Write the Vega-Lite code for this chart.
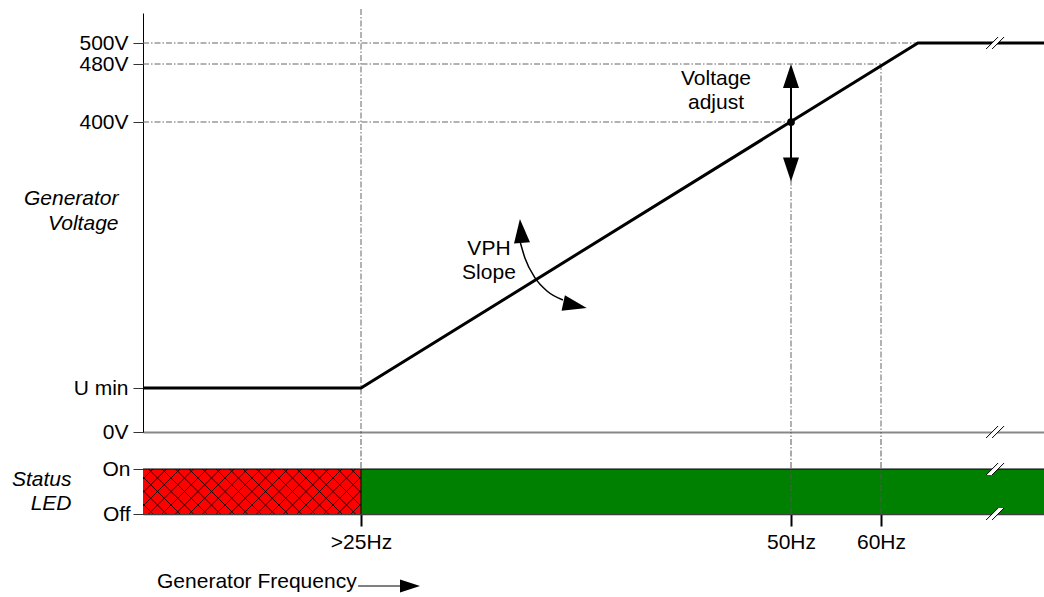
{
  "$schema": "https://vega.github.io/schema/vega-lite/v6.json",
  "padding": {"left": 11, "top": 8, "right": 0, "bottom": 0},
  "background": "white",
  "config": {
    "view": {"stroke": null},
    "font": "Liberation Sans",
    "axis": {"grid": false, "labelFontSize": 21, "labelColor": "black", "labelFont": "Liberation Sans", "titleFont": "Liberation Sans", "labelOverlap": false}
  },
  "bounds": "flush",
  "spacing": 37,
  "datasets": {
    "line": [{"hz": 0, "v": 100}, {"hz": 25, "v": 100}, {"hz": 64.08, "v": 500}, {"hz": 78, "v": 500}],
    "hRefs": [{"v": 500, "hz": 0, "hz2": 64.08}, {"v": 480, "hz": 0, "hz2": 60}, {"v": 400, "hz": 0, "hz2": 50}],
    "vRefsTop": [{"hz": 25, "v": 534, "v2": 0}, {"hz": 50, "v": 400, "v2": 0}, {"hz": 60, "v": 480, "v2": 0}],
    "adjust": [{"hz": 50, "v": 463.4, "v2": 346.4}],
    "adjustUp": [{"hz": 50, "v": 463.4}],
    "adjustDown": [{"hz": 50, "v": 346.4}],
    "setpoint": [{"hz": 50, "v": 400}],
    "vph": [{"hz": 34.27, "v": 263.5}, {"hz": 34.53, "v": 246.6}, {"hz": 35.12, "v": 224.1}, {"hz": 35.81, "v": 209.4}, {"hz": 36.74, "v": 199.2}],
    "vphUp": [{"hz": 34.3, "v": 277.1}],
    "vphRight": [{"hz": 37.44, "v": 193.0}],
    "labels": [{"hz": 45.64, "v": 459.3, "text": "Voltage\nadjust"}, {"hz": 32.44, "v": 256.8, "text": "VPH\nSlope"}],
    "breaksTop": [{"hz": 72.6, "v": 500}, {"hz": 72.6, "v": 0}],
    "led": [{"hz": 0, "hz2": 25, "lo": 0, "hi": 1, "led": "red"}, {"hz": 25, "hz2": 78, "lo": 0, "hi": 1, "led": "green"}],
    "hatch": [{"hz": 12.5, "lvl": 0.5}],
    "vRefsBottom": [{"hz": 25, "lvl": 0, "lvl2": 1.822}, {"hz": 50, "lvl": 0, "lvl2": 1.822}, {"hz": 60, "lvl": 0, "lvl2": 1.822}],
    "barTop": [{"hz": 0, "hz2": 78, "lvl": 1}],
    "boundary": [{"hz": 25, "lvl": 0, "lvl2": 1}],
    "breaksBottom": [{"hz": 72.6, "lvl": 1}, {"hz": 72.6, "lvl": 0}],
    "freqArrow": [{"hz": 24.66, "hz2": 27.3, "lvl": -1.6}],
    "freqHead": [{"hz": 27.85, "lvl": -1.6}],
    "freqLabel": [{"hz": 1.61, "lvl": -1.511, "text": "Generator Frequency"}]
  },
  "vconcat": [
    {
      "width": 901,
      "height": 419,
      "layer": [
        {
          "data": {"name": "hRefs"},
          "mark": {"type": "rule", "color": "#666666", "strokeWidth": 1, "strokeDash": [6, 2, 1.5, 2]},
          "encoding": {
            "x": {"field": "hz", "type": "quantitative",
              "scale": {"type": "linear", "domain": [0, 25, 50, 60, 78], "range": [0, 218, 648, 738, 901], "nice": false, "zero": false},
              "axis": {"ticks": false, "labels": false, "domainColor": "#888888", "domainWidth": 2, "title": null}},
            "x2": {"field": "hz2"},
            "y": {"field": "v", "type": "quantitative",
              "scale": {"type": "linear", "domain": [0, 100, 400, 480, 500, 530], "range": [419, 375, 109, 51, 30, 0], "nice": false, "zero": false},
              "axis": {"values": [0, 100, 400, 480, 500], "labelExpr": "datum.value == 100 ? 'U min' : datum.value + 'V'",
                "domainColor": "black", "domainWidth": 1, "tickColor": "#333333", "tickSize": 10, "labelPadding": 5,
                "title": ["Generator", "Voltage"], "titleAngle": 0, "titleFontStyle": "italic", "titleFontWeight": "normal", "titleFontSize": 21,
                "titleAlign": "right", "titleBaseline": "middle", "titleX": -25, "titleY": 185, "titleLineHeight": 25, "titleColor": "black"}}
          }
        },
        {
          "data": {"name": "vRefsTop"},
          "mark": {"type": "rule", "color": "#666666", "strokeWidth": 1, "strokeDash": [6, 2, 1.5, 2]},
          "encoding": {
            "x": {"field": "hz", "type": "quantitative"},
            "y": {"field": "v", "type": "quantitative"},
            "y2": {"field": "v2"}
          }
        },
        {
          "data": {"name": "line"},
          "mark": {"type": "line", "color": "black", "strokeWidth": 3},
          "encoding": {
            "x": {"field": "hz", "type": "quantitative"},
            "y": {"field": "v", "type": "quantitative"}
          }
        },
        {
          "data": {"name": "adjust"},
          "mark": {"type": "rule", "color": "black", "strokeWidth": 2},
          "encoding": {
            "x": {"field": "hz", "type": "quantitative"},
            "y": {"field": "v", "type": "quantitative"},
            "y2": {"field": "v2"}
          }
        },
        {
          "data": {"name": "adjustUp"},
          "mark": {"type": "point", "shape": "M0,-12L8,12L-8,12Z", "size": 4, "filled": true, "color": "black", "opacity": 1, "strokeWidth": 0},
          "encoding": {
            "x": {"field": "hz", "type": "quantitative"},
            "y": {"field": "v", "type": "quantitative"}
          }
        },
        {
          "data": {"name": "adjustDown"},
          "mark": {"type": "point", "shape": "M0,-12L8,12L-8,12Z", "angle": 180, "size": 4, "filled": true, "color": "black", "opacity": 1, "strokeWidth": 0},
          "encoding": {
            "x": {"field": "hz", "type": "quantitative"},
            "y": {"field": "v", "type": "quantitative"}
          }
        },
        {
          "data": {"name": "setpoint"},
          "mark": {"type": "point", "shape": "circle", "size": 60, "filled": true, "color": "black", "opacity": 1},
          "encoding": {
            "x": {"field": "hz", "type": "quantitative"},
            "y": {"field": "v", "type": "quantitative"}
          }
        },
        {
          "data": {"name": "vph"},
          "mark": {"type": "line", "color": "black", "strokeWidth": 1.5, "interpolate": "monotone"},
          "encoding": {
            "x": {"field": "hz", "type": "quantitative"},
            "y": {"field": "v", "type": "quantitative"}
          }
        },
        {
          "data": {"name": "vphUp"},
          "mark": {"type": "point", "shape": "M0,-12L8,12L-8,12Z", "angle": -5, "size": 4, "filled": true, "color": "black", "opacity": 1, "strokeWidth": 0},
          "encoding": {
            "x": {"field": "hz", "type": "quantitative"},
            "y": {"field": "v", "type": "quantitative"}
          }
        },
        {
          "data": {"name": "vphRight"},
          "mark": {"type": "point", "shape": "M0,-12L8,12L-8,12Z", "angle": 102, "size": 4, "filled": true, "color": "black", "opacity": 1, "strokeWidth": 0},
          "encoding": {
            "x": {"field": "hz", "type": "quantitative"},
            "y": {"field": "v", "type": "quantitative"}
          }
        },
        {
          "data": {"name": "labels"},
          "mark": {"type": "text", "fontSize": 21, "font": "Liberation Sans", "color": "black", "align": "center", "baseline": "middle", "lineBreak": "\n", "lineHeight": 24},
          "encoding": {
            "x": {"field": "hz", "type": "quantitative"},
            "y": {"field": "v", "type": "quantitative"},
            "text": {"field": "text"}
          }
        },
        {
          "data": {"name": "breaksTop"},
          "mark": {"type": "point", "shape": "M-9,6L3,-6L9,-6L-3,6Z", "size": 4, "filled": true, "color": "white", "opacity": 1, "strokeWidth": 0},
          "encoding": {
            "x": {"field": "hz", "type": "quantitative"},
            "y": {"field": "v", "type": "quantitative"}
          }
        },
        {
          "data": {"name": "breaksTop"},
          "mark": {"type": "point", "shape": "M-9,6L3,-6M-3,6L9,-6", "size": 4, "filled": false, "color": "black", "opacity": 1, "strokeWidth": 1},
          "encoding": {
            "x": {"field": "hz", "type": "quantitative"},
            "y": {"field": "v", "type": "quantitative"}
          }
        }
      ]
    },
    {
      "width": 901,
      "height": 45,
      "layer": [
        {
          "data": {"name": "led"},
          "transform": [{"filter": "datum.led == 'red'"}],
          "mark": {"type": "rect", "color": "#ff0000"},
          "encoding": {
            "x": {"field": "hz", "type": "quantitative",
              "scale": {"type": "linear", "domain": [0, 25, 50, 60, 78], "range": [0, 218, 648, 738, 901], "nice": false, "zero": false},
              "axis": {"values": [25, 50, 60], "labelExpr": "datum.value == 25 ? '>25Hz' : datum.value + 'Hz'",
                "domainColor": "#404040", "domainWidth": 1.5, "tickColor": "black", "tickWidth": 2, "tickSize": 12, "labelPadding": 5, "title": null}},
            "x2": {"field": "hz2"},
            "y": {"field": "lo", "type": "quantitative",
              "scale": {"type": "linear", "domain": [0, 1], "nice": false, "zero": false},
              "axis": {"values": [0, 1], "labelExpr": "datum.value == 1 ? 'On' : 'Off'",
                "domainColor": "black", "domainWidth": 1, "tickColor": "#333333", "tickSize": 10, "labelPadding": 3,
                "title": ["Status", "LED"], "titleAngle": 0, "titleFontStyle": "italic", "titleFontWeight": "normal", "titleFontSize": 21,
                "titleAlign": "right", "titleBaseline": "middle", "titleX": -72, "titleY": 10, "titleLineHeight": 24, "titleColor": "black"}},
            "y2": {"field": "hi"}
          }
        },
        {
          "data": {"name": "hatch"},
          "mark": {"type": "point", "clip": true, "size": 4, "filled": false, "color": "black", "opacity": 0.85, "strokeWidth": 1,
            "shape": "M-160,-25L-110,25M-160,25L-110,-25M-146.5,-25L-96.5,25M-146.5,25L-96.5,-25M-133,-25L-83,25M-133,25L-83,-25M-119.5,-25L-69.5,25M-119.5,25L-69.5,-25M-106,-25L-56,25M-106,25L-56,-25M-92.5,-25L-42.5,25M-92.5,25L-42.5,-25M-79,-25L-29,25M-79,25L-29,-25M-65.5,-25L-15.5,25M-65.5,25L-15.5,-25M-52,-25L-2,25M-52,25L-2,-25M-38.5,-25L11.5,25M-38.5,25L11.5,-25M-25,-25L25,25M-25,25L25,-25M-11.5,-25L38.5,25M-11.5,25L38.5,-25M2,-25L52,25M2,25L52,-25M15.5,-25L65.5,25M15.5,25L65.5,-25M29,-25L79,25M29,25L79,-25M42.5,-25L92.5,25M42.5,25L92.5,-25M56,-25L106,25M56,25L106,-25M69.5,-25L119.5,25M69.5,25L119.5,-25M83,-25L133,25M83,25L133,-25M96.5,-25L146.5,25M96.5,25L146.5,-25M110,-25L160,25M110,25L160,-25"},
          "encoding": {
            "x": {"field": "hz", "type": "quantitative"},
            "y": {"field": "lvl", "type": "quantitative"}
          }
        },
        {
          "data": {"name": "led"},
          "transform": [{"filter": "datum.led == 'green'"}],
          "mark": {"type": "rect", "color": "#008000"},
          "encoding": {
            "x": {"field": "hz", "type": "quantitative"},
            "x2": {"field": "hz2"},
            "y": {"field": "lo", "type": "quantitative"},
            "y2": {"field": "hi"}
          }
        },
        {
          "data": {"name": "vRefsBottom"},
          "mark": {"type": "rule", "color": "#555555", "strokeWidth": 1, "strokeDash": [6, 2, 1.5, 2]},
          "encoding": {
            "x": {"field": "hz", "type": "quantitative"},
            "y": {"field": "lvl", "type": "quantitative"},
            "y2": {"field": "lvl2"}
          }
        },
        {
          "data": {"name": "barTop"},
          "mark": {"type": "rule", "color": "black", "strokeWidth": 1.2},
          "encoding": {
            "x": {"field": "hz", "type": "quantitative"},
            "x2": {"field": "hz2"},
            "y": {"field": "lvl", "type": "quantitative"}
          }
        },
        {
          "data": {"name": "boundary"},
          "mark": {"type": "rule", "color": "black", "strokeWidth": 1},
          "encoding": {
            "x": {"field": "hz", "type": "quantitative"},
            "y": {"field": "lvl", "type": "quantitative"},
            "y2": {"field": "lvl2"}
          }
        },
        {
          "data": {"name": "breaksBottom"},
          "mark": {"type": "point", "shape": "M-9,6L3,-6L9,-6L-3,6Z", "size": 4, "filled": true, "color": "white", "opacity": 1, "strokeWidth": 0},
          "encoding": {
            "x": {"field": "hz", "type": "quantitative"},
            "y": {"field": "lvl", "type": "quantitative"}
          }
        },
        {
          "data": {"name": "breaksBottom"},
          "mark": {"type": "point", "shape": "M-9,6L3,-6M-3,6L9,-6", "size": 4, "filled": false, "color": "black", "opacity": 1, "strokeWidth": 1},
          "encoding": {
            "x": {"field": "hz", "type": "quantitative"},
            "y": {"field": "lvl", "type": "quantitative"}
          }
        },
        {
          "data": {"name": "freqArrow"},
          "mark": {"type": "rule", "color": "black", "strokeWidth": 1},
          "encoding": {
            "x": {"field": "hz", "type": "quantitative"},
            "x2": {"field": "hz2"},
            "y": {"field": "lvl", "type": "quantitative"}
          }
        },
        {
          "data": {"name": "freqHead"},
          "mark": {"type": "point", "shape": "M0,-10L6.5,10L-6.5,10Z", "angle": 90, "size": 4, "filled": true, "color": "black", "opacity": 1, "strokeWidth": 0},
          "encoding": {
            "x": {"field": "hz", "type": "quantitative"},
            "y": {"field": "lvl", "type": "quantitative"}
          }
        },
        {
          "data": {"name": "freqLabel"},
          "mark": {"type": "text", "fontSize": 21, "font": "Liberation Sans", "color": "black", "align": "left", "baseline": "middle"},
          "encoding": {
            "x": {"field": "hz", "type": "quantitative"},
            "y": {"field": "lvl", "type": "quantitative"},
            "text": {"field": "text"}
          }
        }
      ]
    }
  ]
}
